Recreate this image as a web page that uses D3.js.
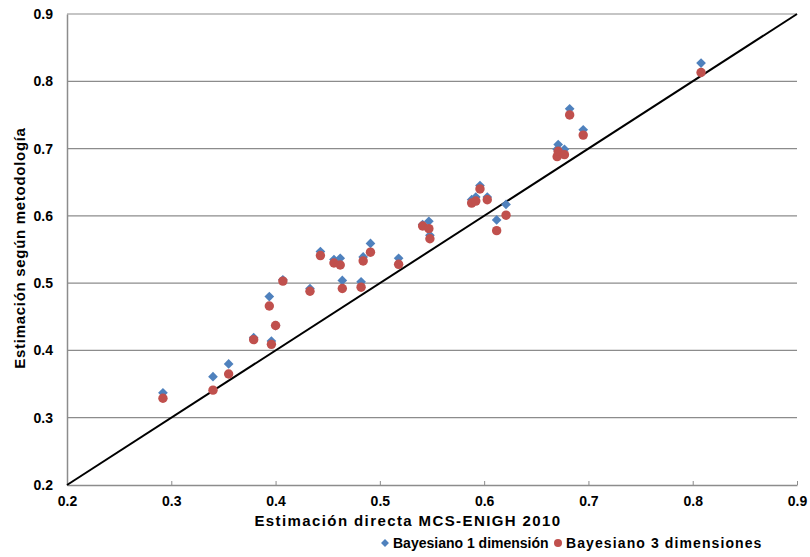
<!DOCTYPE html>
<html>
<head>
<meta charset="utf-8">
<script src="https://cdn.jsdelivr.net/npm/d3@7"></script>
<style>
  body { margin: 0; background: #fff; }
  text { font-family: "Liberation Sans", Arial, sans-serif; font-weight: bold; fill: #000; }
</style>
</head>
<body>
<svg width="810" height="557"></svg>
<script>
// estimación directa (eje x)
var directa = [0.292, 0.340, 0.355, 0.379, 0.394, 0.396, 0.400, 0.407, 0.433, 0.443,
  0.456, 0.462, 0.464, 0.482, 0.484, 0.491, 0.518, 0.541, 0.547, 0.548,
  0.588, 0.592, 0.596, 0.603, 0.612, 0.621, 0.670, 0.671, 0.677, 0.682, 0.695, 0.808];
// Bayesiano 1 dimensión
var bayes1 = [0.337, 0.361, 0.380, 0.419, 0.480, 0.414, 0.437, 0.505, 0.492, 0.547,
  0.535, 0.537, 0.504, 0.502, 0.539, 0.559, 0.537, 0.587, 0.592, 0.571,
  0.624, 0.628, 0.645, 0.628, 0.594, 0.617, 0.699, 0.706, 0.699, 0.759, 0.728, 0.827];
// Bayesiano 3 dimensiones
var bayes3 = [0.329, 0.341, 0.365, 0.416, 0.466, 0.409, 0.437, 0.503, 0.488, 0.541,
  0.530, 0.527, 0.492, 0.494, 0.533, 0.546, 0.528, 0.585, 0.581, 0.566,
  0.619, 0.622, 0.640, 0.624, 0.578, 0.601, 0.688, 0.696, 0.691, 0.750, 0.720, 0.813];
var ticks = [0.2, 0.3, 0.4, 0.5, 0.6, 0.7, 0.8, 0.9];
var series = ["Bayesiano 1 dimensión", "Bayesiano 3 dimensiones"];
var colors = ["#4F81BD", "#C0504D"];

var svg = d3.select("svg");
var x = d3.scaleLinear().domain([0.2, 0.9]).range([67, 797]);
var y = d3.scaleLinear().domain([0.2, 0.9]).range([485, 14]);

// gridlines
svg.append("g").selectAll("line").data(ticks.slice(1)).enter().append("line")
  .attr("x1", x(0.2)).attr("x2", x(0.9))
  .attr("y1", d => y(d)).attr("y2", d => y(d))
  .attr("stroke", "#8c8c8c").attr("stroke-width", 1.2);

// x axis
var xAxis = svg.append("g")
  .attr("transform", "translate(0," + y(0.2) + ")")
  .call(d3.axisBottom(x).tickValues(ticks).tickFormat(d3.format(".1f")).tickSizeInner(-4).tickSizeOuter(0).tickPadding(11));
xAxis.select(".domain").attr("stroke", "#8c8c8c").attr("stroke-width", 1.5);
xAxis.selectAll(".tick line").attr("stroke", "#8c8c8c");
xAxis.selectAll("text").style("font-size", "14px");

// y axis
var yAxis = svg.append("g")
  .attr("transform", "translate(" + x(0.2) + ",0)")
  .call(d3.axisLeft(y).tickValues(ticks).tickFormat(d3.format(".1f")).tickSize(0).tickPadding(14));
yAxis.select(".domain").attr("stroke", "#8c8c8c").attr("stroke-width", 1.5);
yAxis.selectAll("text").style("font-size", "14px");

// diagonal
svg.append("line")
  .attr("x1", x(0.2)).attr("y1", y(0.2))
  .attr("x2", x(0.9)).attr("y2", y(0.9))
  .attr("stroke", "#000").attr("stroke-width", 2);

var diamond = d3.symbol().type(d3.symbolDiamond2).size(60);

svg.append("g").selectAll("path").data(directa).enter().append("path")
  .attr("d", diamond)
  .attr("transform", (d, i) => "translate(" + x(d) + "," + y(bayes1[i]) + ")")
  .attr("fill", colors[0]);

svg.append("g").selectAll("circle").data(directa).enter().append("circle")
  .attr("cx", d => x(d))
  .attr("cy", (d, i) => y(bayes3[i]))
  .attr("r", 4.7)
  .attr("fill", colors[1]);

// axis titles
svg.append("text")
  .attr("x", 408).attr("y", 526)
  .attr("text-anchor", "middle")
  .style("font-size", "15px")
  .style("letter-spacing", "1.4px")
  .text("Estimación directa MCS-ENIGH 2010");

svg.append("text")
  .attr("transform", "translate(25,248) rotate(-90)")
  .attr("text-anchor", "middle")
  .style("font-size", "15px")
  .style("letter-spacing", "0.7px")
  .text("Estimación según metodología");

// legend
var lg = svg.append("g");
lg.append("path").attr("d", d3.symbol().type(d3.symbolDiamond2).size(40))
  .attr("transform", "translate(385,543)").attr("fill", colors[0]);
lg.append("text").attr("x", 393).attr("y", 548).style("font-size", "14px").text(series[0]);
lg.append("circle").attr("cx", 558).attr("cy", 543).attr("r", 4).attr("fill", colors[1]);
lg.append("text").attr("x", 566).attr("y", 548).style("font-size", "14px")
  .style("letter-spacing", "1.1px").text(series[1]);
</script>
</body>
</html>
